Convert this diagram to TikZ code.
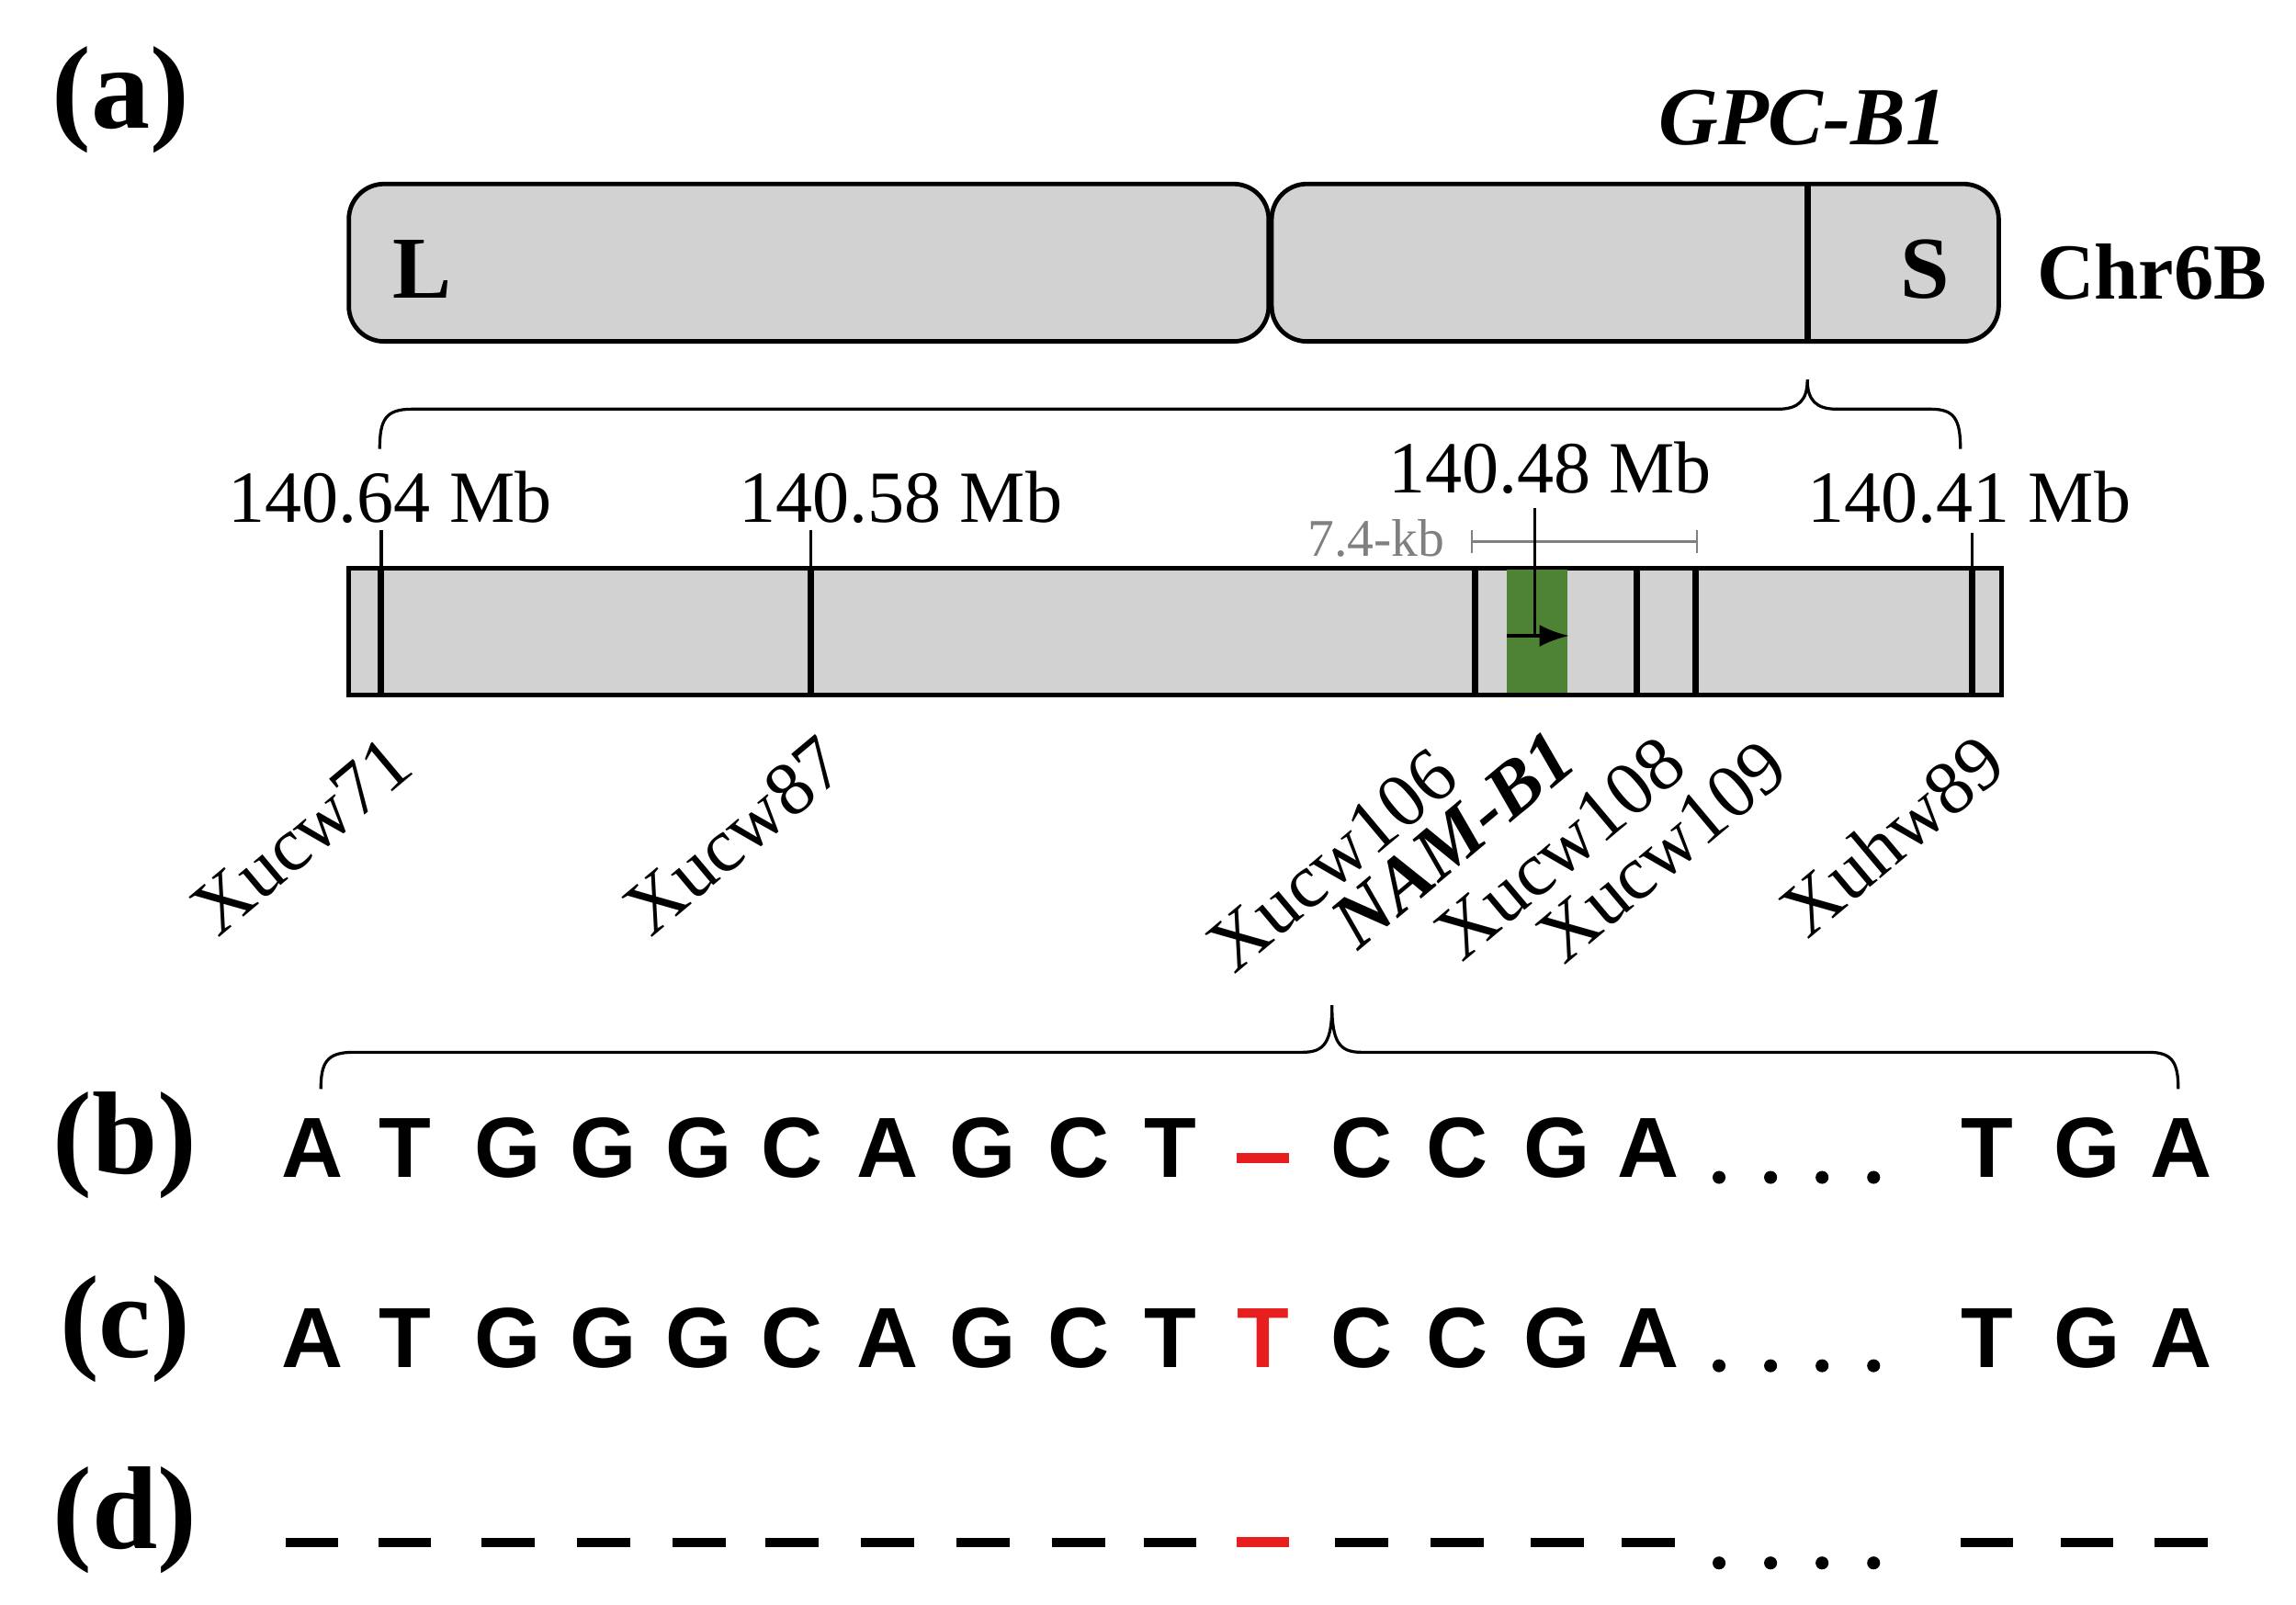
\documentclass[tikz,border=0pt]{standalone}
\usepackage{fontspec}
\setmainfont{Liberation Serif}
\newfontfamily\seqf{Liberation Sans}
\usetikzlibrary{arrows.meta}
\definecolor{chrgray}{RGB}{210,210,210}
\definecolor{genegreen}{RGB}{78,130,52}
\definecolor{seqred}{RGB}{230,30,30}
\tikzset{
 panel/.style={font=\fontsize{40}{42}\selectfont\bfseries},
 mb/.style={font=\fontsize{25}{28}\selectfont},
 mk/.style={font=\fontsize{26}{28}\selectfont,rotate=40},
 seq/.style={font=\seqf\fontsize{29}{32}\selectfont\bfseries},
 chr/.style={draw,line width=1.5pt,fill=chrgray,rounded corners=12pt},
 bline/.style={line width=2.2pt},
 brace/.style={line width=1pt}
}
\begin{document}
\begin{tikzpicture}[x=0.5pt,y=-0.5pt]
\useasboundingbox (0,0) rectangle (1560,1090);
\node[panel] (pa) at (82,68) {(a)};
\node[panel] (pb) at (85,778) {(b)};
\node[panel] (pc) at (85,903) {(c)};
\node[panel] (pd) at (85,1033) {(d)};
% chromosome
\draw[chr] (237,125) rectangle (862,232);
\draw[chr] (864,125) rectangle (1358,232);
\draw[bline] (1228,125) -- (1228,232);
\node[font=\fontsize{30}{32}\selectfont\bfseries] (L) at (287,183) {L};
\node[font=\fontsize{30}{32}\selectfont\bfseries] (S) at (1308,183) {S};
\node[font=\fontsize{27}{30}\selectfont\bfseries] (chr) at (1462,185) {Chr6B};
\node[font=\fontsize{28}{32}\selectfont\bfseries\itshape] (gpc) at (1225,80) {GPC-B1};
% brace 1
\draw[brace] (258,305) .. controls (258,285) and (262,278) .. (280,278) -- (1208,278)
  .. controls (1222,278) and (1228,272) .. (1228,258)
  .. controls (1228,272) and (1234,278) .. (1248,278) -- (1312,278)
  .. controls (1328,278) and (1332,285) .. (1332,305);
% labels
\node[mb] (m1) at (265,338) {140.64 Mb};
\node[mb] (m2) at (612,338) {140.58 Mb};
\node[mb] (m3) at (1053,318) {140.48 Mb};
\node[mb] (m4) at (1338,338) {140.41 Mb};
\node[font=\fontsize{18}{20}\selectfont,text=gray] (kb) at (935,366) {7.4-kb};
\draw[gray,line width=0.8pt] (1000,368) -- (1153,368) (1000,360)--(1000,376) (1153,360)--(1153,376);
% bar
\draw[line width=1.5pt,fill=chrgray] (237,386) rectangle (1360,472);
\fill[genegreen] (1024,387) rectangle (1065,471);
\foreach \x in {259,551,1002,1112,1152,1340} \draw[bline] (\x,386) -- (\x,472);
\foreach \x in {259,551} \draw[line width=1pt] (\x,360) -- (\x,386);
\draw[line width=1pt] (1340,362) -- (1340,386);
\draw[line width=1pt] (1043,345) -- (1043,432);
\draw[line width=1.2pt,-{Latex[length=10pt]}] (1024,432) -- (1066,432);
% markers
\node[mk,anchor=north east] (x71) at (262,488) {Xucw71};
\node[mk,anchor=north east] (x87) at (556,488) {Xucw87};
\node[mk,anchor=north east] (x106) at (972,496) {Xucw106};
\node[mk,anchor=north east,font=\fontsize{26}{28}\selectfont\bfseries\itshape] (nam) at (1052,484) {NAM-B1};
\node[mk,anchor=north east] (x108) at (1127,488) {Xucw108};
\node[mk,anchor=north east] (x109) at (1196,490) {Xucw109};
\node[mk,anchor=north east] (x89) at (1343,486) {Xuhw89};
% brace 2
\draw[brace] (218,740) .. controls (218,722) and (222,715) .. (240,715) -- (885,715)
  .. controls (900,715) and (905,708) .. (905,683)
  .. controls (905,708) and (910,715) .. (925,715) -- (1460,715)
  .. controls (1476,715) and (1480,722) .. (1480,740);
% sequences
\foreach \l/\x [count=\i] in {A/212,T/275,G/345,G/410,G/475,C/538,A/603,G/668,C/733,T/795,C/925,C/990,G/1058,A/1120,T/1350,G/1418,A/1482} {
 \node[seq] (b\i) at (\x,780) {\l};
 \node[seq] (c\i) at (\x,909) {\l};
 \draw[line width=3pt] (\x-18,1048) -- (\x+18,1048);
}
\draw[seqred,line width=3.5pt] (840,787) -- (876,787);
\node[seq,text=seqred] (cT) at (858,909) {T};
\draw[seqred,line width=3.5pt] (840,1048) -- (876,1048);
\foreach \x in {1168,1203,1238,1273} {
 \fill (\x,800) circle (2.2pt);
 \fill (\x,928) circle (2.2pt);
 \fill (\x,1062) circle (2.2pt);
}
\end{tikzpicture}
\end{document}
